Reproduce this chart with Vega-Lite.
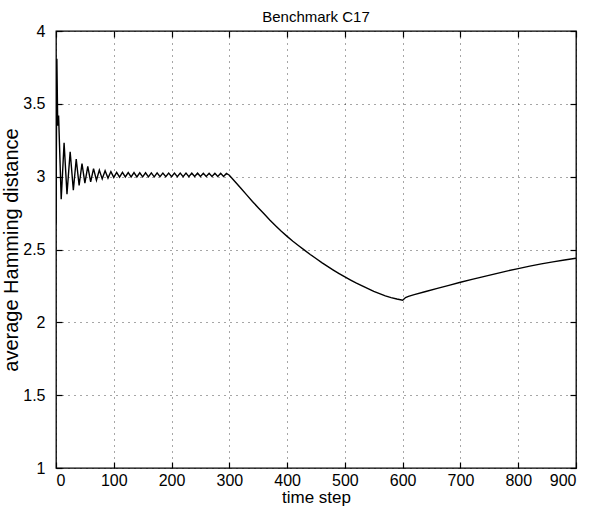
{
  "$schema": "https://vega.github.io/schema/vega-lite/v6.json",
  "width": 520,
  "height": 437,
  "autosize": {"type": "none"},
  "padding": {"left": 56, "top": 31, "right": 24, "bottom": 42},
  "background": "white",
  "title": {"text": "Benchmark C17", "fontSize": 15, "font": "Liberation Sans", "fontWeight": "normal", "color": "black", "offset": 0, "dy": 2, "anchor": "middle"},
  "config": {
    "view": {"stroke": "black", "strokeWidth": 1.3},
    "axis": {
      "domain": false,
      "labelFont": "Liberation Sans",
      "labelFontSize": 16,
      "labelColor": "black",
      "titleFont": "Liberation Sans",
      "titleFontSize": 16,
      "titleFontWeight": "normal",
      "titleColor": "black",
      "tickColor": "black",
      "tickWidth": 1.2,
      "gridColor": "black",
      "gridDash": [1, 5],
      "gridOpacity": 0.7,
      "gridWidth": 1
    }
  },
  "data": {"values": [
    {"t": 0, "v": 2.68}, {"t": 1.5, "v": 3.81}, {"t": 3, "v": 3.35}, {"t": 4.5, "v": 3.42},
    {"t": 9, "v": 2.845}, {"t": 14, "v": 3.233}, {"t": 19, "v": 2.88}, {"t": 24.5, "v": 3.171},
    {"t": 30, "v": 2.908}, {"t": 35, "v": 3.12}, {"t": 40, "v": 2.94}, {"t": 45, "v": 3.09},
    {"t": 50, "v": 2.955}, {"t": 55, "v": 3.07}, {"t": 60, "v": 2.965}, {"t": 65, "v": 3.055},
    {"t": 70, "v": 2.975}, {"t": 75, "v": 3.045}, {"t": 80, "v": 2.985}, {"t": 85, "v": 3.04},
    {"t": 90, "v": 2.99}, {"t": 95, "v": 3.035}, {"t": 100, "v": 2.995},
    {"t": 105, "v": 3.03}, {"t": 110, "v": 2.997}, {"t": 115, "v": 3.03}, {"t": 120, "v": 2.998},
    {"t": 125, "v": 3.028}, {"t": 130, "v": 2.998}, {"t": 135, "v": 3.028}, {"t": 140, "v": 2.998},
    {"t": 145, "v": 3.027}, {"t": 150, "v": 2.999}, {"t": 155, "v": 3.027}, {"t": 160, "v": 2.999},
    {"t": 165, "v": 3.026}, {"t": 170, "v": 2.999}, {"t": 175, "v": 3.026}, {"t": 180, "v": 3.0},
    {"t": 185, "v": 3.025}, {"t": 190, "v": 3.0}, {"t": 195, "v": 3.025}, {"t": 200, "v": 3.0},
    {"t": 205, "v": 3.025}, {"t": 210, "v": 3.0}, {"t": 215, "v": 3.024}, {"t": 220, "v": 3.0},
    {"t": 225, "v": 3.024}, {"t": 230, "v": 3.0}, {"t": 235, "v": 3.024}, {"t": 240, "v": 3.001},
    {"t": 245, "v": 3.024}, {"t": 250, "v": 3.001}, {"t": 255, "v": 3.023}, {"t": 260, "v": 3.001},
    {"t": 265, "v": 3.023}, {"t": 270, "v": 3.001}, {"t": 275, "v": 3.023}, {"t": 280, "v": 3.001},
    {"t": 285, "v": 3.023}, {"t": 290, "v": 3.001}, {"t": 295, "v": 3.022}, {"t": 300, "v": 3.01},
    {"t": 310, "v": 2.965}, {"t": 320, "v": 2.92}, {"t": 330, "v": 2.875}, {"t": 340, "v": 2.83},
    {"t": 350, "v": 2.787}, {"t": 360, "v": 2.745}, {"t": 370, "v": 2.703}, {"t": 380, "v": 2.663},
    {"t": 390, "v": 2.625}, {"t": 400, "v": 2.59}, {"t": 410, "v": 2.557}, {"t": 420, "v": 2.526},
    {"t": 430, "v": 2.496}, {"t": 440, "v": 2.466}, {"t": 450, "v": 2.438}, {"t": 460, "v": 2.41},
    {"t": 470, "v": 2.384}, {"t": 480, "v": 2.359}, {"t": 490, "v": 2.335}, {"t": 500, "v": 2.312},
    {"t": 510, "v": 2.29}, {"t": 520, "v": 2.269}, {"t": 530, "v": 2.25}, {"t": 540, "v": 2.231},
    {"t": 550, "v": 2.213}, {"t": 560, "v": 2.197}, {"t": 570, "v": 2.182}, {"t": 580, "v": 2.17},
    {"t": 590, "v": 2.16}, {"t": 600, "v": 2.152},
    {"t": 605, "v": 2.17}, {"t": 610, "v": 2.178}, {"t": 620, "v": 2.19}, {"t": 640, "v": 2.212},
    {"t": 660, "v": 2.233}, {"t": 680, "v": 2.254}, {"t": 700, "v": 2.275}, {"t": 720, "v": 2.295},
    {"t": 740, "v": 2.314}, {"t": 760, "v": 2.333}, {"t": 780, "v": 2.352}, {"t": 800, "v": 2.369},
    {"t": 820, "v": 2.386}, {"t": 840, "v": 2.401}, {"t": 860, "v": 2.415}, {"t": 880, "v": 2.428},
    {"t": 900, "v": 2.44}
  ]},
  "layer": [
    {
      "mark": {"type": "line", "color": "black", "strokeWidth": 1.4, "clip": true},
      "encoding": {
        "x": {"field": "t", "type": "quantitative",
              "scale": {"domain": [0, 900], "nice": false, "zero": false},
              "axis": {"orient": "bottom", "values": [0, 100, 200, 300, 400, 500, 600, 700, 800, 900],
                       "title": "time step", "titleFontSize": 17, "grid": true, "tickSize": -6, "labelPadding": 10, "titlePadding": 1}},
        "y": {"field": "v", "type": "quantitative",
              "scale": {"domain": [1, 4], "nice": false, "zero": false},
              "axis": {"orient": "left", "values": [1, 1.5, 2, 2.5, 3, 3.5, 4], "format": "~g",
                       "title": "average Hamming distance", "titleFontSize": 20, "grid": true, "tickSize": -6, "labelPadding": 17, "titlePadding": 1}}
      }
    },
    {
      "mark": {"type": "line", "opacity": 0},
      "encoding": {
        "x": {"field": "t", "type": "quantitative",
              "scale": {"domain": [0, 900], "nice": false, "zero": false},
              "axis": {"orient": "top", "values": [0, 100, 200, 300, 400, 500, 600, 700, 800, 900],
                       "title": null, "labels": false, "grid": false, "tickSize": -6}},
        "y": {"field": "v", "type": "quantitative",
              "scale": {"domain": [1, 4], "nice": false, "zero": false},
              "axis": {"orient": "right", "values": [1, 1.5, 2, 2.5, 3, 3.5, 4],
                       "title": null, "labels": false, "grid": false, "tickSize": -6}}
      }
    }
  ],
  "resolve": {"axis": {"x": "independent", "y": "independent"}}
}
